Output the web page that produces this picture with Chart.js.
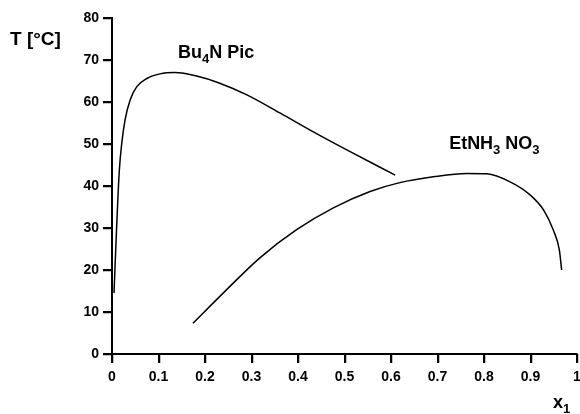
<!DOCTYPE html>
<html>
<head>
<meta charset="utf-8">
<script src="https://cdn.jsdelivr.net/npm/chart.js@4"></script>
<style>
  html, body { margin: 0; padding: 0; background: #fff; }
  #wrap { width: 580px; height: 414px; }
</style>
</head>
<body>
<div id="wrap"><canvas id="chart"></canvas></div>
<script>
// Bu4N Pic coexistence curve (x1, T in °C)
const bu4nX = [0.0043, 0.010, 0.0158, 0.021, 0.028, 0.039, 0.053, 0.075, 0.103, 0.135, 0.182, 0.229, 0.29, 0.361, 0.433, 0.505, 0.609];
const bu4nT = [14.5, 30.3, 43.8, 50.2, 55.7, 60.5, 63.6, 65.6, 66.7, 67.0, 66.2, 64.6, 61.7, 57.4, 52.9, 48.6, 42.6];

// EtNH3 NO3 coexistence curve
const etX = [0.174, 0.239, 0.318, 0.397, 0.476, 0.555, 0.619, 0.691, 0.763, 0.806, 0.856, 0.899, 0.928, 0.949, 0.962, 0.967];
const etT = [7.3, 14.5, 22.9, 29.6, 34.8, 38.7, 40.8, 42.2, 43.0, 42.9, 41.0, 37.9, 34.3, 29.5, 24.8, 20.0];

const xTicks = [0, 0.1, 0.2, 0.3, 0.4, 0.5, 0.6, 0.7, 0.8, 0.9, 1];
const yTicks = [0, 10, 20, 30, 40, 50, 60, 70, 80];

const FONT = '"Liberation Sans", Arial, Helvetica, sans-serif';
const TICK_LEN = 9;

const toPoints = (xs, ys) => xs.map((x, i) => ({ x: x, y: ys[i] }));

// text made of normal and subscript parts: parts = [[text, isSub], ...]
function drawRich(ctx, parts, x, y, size) {
  let cx = x;
  parts.forEach(([txt, sub]) => {
    ctx.font = `bold ${sub ? Math.round(size * 0.7) : size}px ${FONT}`;
    ctx.fillText(txt, cx, sub ? y + size * 0.3 : y);
    cx += ctx.measureText(txt).width;
  });
}

const curveLabels = {
  id: 'curveLabels',
  afterDraw(chart) {
    const ctx = chart.ctx;
    const xs = chart.scales.x, ys = chart.scales.y;
    ctx.save();

    // outward tick marks, placed by the scales
    ctx.strokeStyle = '#000';
    ctx.lineWidth = 1.5;
    ctx.beginPath();
    yTicks.forEach(v => {
      const py = Math.round(ys.getPixelForValue(v)) + 0.5;
      ctx.moveTo(xs.left - TICK_LEN, py);
      ctx.lineTo(xs.left, py);
    });
    xTicks.forEach(v => {
      const px = Math.round(xs.getPixelForValue(v)) + 0.5;
      ctx.moveTo(px, ys.bottom);
      ctx.lineTo(px, ys.bottom + TICK_LEN);
    });
    ctx.stroke();

    ctx.fillStyle = '#000';
    ctx.textBaseline = 'alphabetic';
    ctx.textAlign = 'left';
    // axis titles
    drawRich(ctx, [['T [°C]', false]], 10, 45, 19);
    drawRich(ctx, [['x', false], ['1', true]], 553, 408, 18);
    // curve names
    drawRich(ctx, [['Bu', false], ['4', true], ['N Pic', false]], xs.getPixelForValue(0.142), ys.getPixelForValue(70.5), 18);
    drawRich(ctx, [['EtNH', false], ['3', true], [' NO', false], ['3', true]], xs.getPixelForValue(0.725), ys.getPixelForValue(48.8), 18);
    ctx.restore();
  }
};

const lineStyle = {
  showLine: true,
  borderColor: '#000',
  borderWidth: 1.5,
  pointRadius: 0,
  cubicInterpolationMode: 'monotone'
};

new Chart(document.getElementById('chart'), {
  type: 'scatter',
  data: {
    datasets: [
      { data: toPoints(bu4nX, bu4nT), ...lineStyle },
      { data: toPoints(etX, etT), ...lineStyle }
    ]
  },
  options: {
    responsive: true,
    maintainAspectRatio: false,
    animation: false,
    layout: { padding: { top: 18, right: 3, left: 0, bottom: 0 } },
    plugins: { legend: { display: false }, tooltip: { enabled: false } },
    scales: {
      x: {
        min: 0,
        max: 1,
        afterFit: (scale) => { scale.height = 60; scale.paddingRight = 0; },
        afterBuildTicks: (scale) => { scale.ticks = xTicks.map(v => ({ value: v })); },
        border: { color: '#000', width: 2 },
        grid: { drawOnChartArea: false, drawTicks: true, color: '#000', tickColor: '#000', tickLength: TICK_LEN, tickWidth: 1.5, lineWidth: 1.5 },
        ticks: {
          color: '#000',
          padding: 6,
          maxRotation: 0,
          font: { family: FONT, size: 14, weight: 'bold' },
          callback: (v) => String(Number(v.toFixed(1)))
        }
      },
      y: {
        min: 0,
        max: 80,
        afterFit: (scale) => { scale.width = 112; scale.paddingTop = 0; },
        afterBuildTicks: (scale) => { scale.ticks = yTicks.map(v => ({ value: v })); },
        border: { color: '#000', width: 2 },
        grid: { drawOnChartArea: false, drawTicks: true, color: '#000', tickColor: '#000', tickLength: TICK_LEN, tickWidth: 1.5, lineWidth: 1.5 },
        ticks: { color: '#000', padding: 4, font: { family: FONT, size: 14, weight: 'bold' } }
      }
    }
  },
  plugins: [curveLabels]
});
</script>
</body>
</html>
